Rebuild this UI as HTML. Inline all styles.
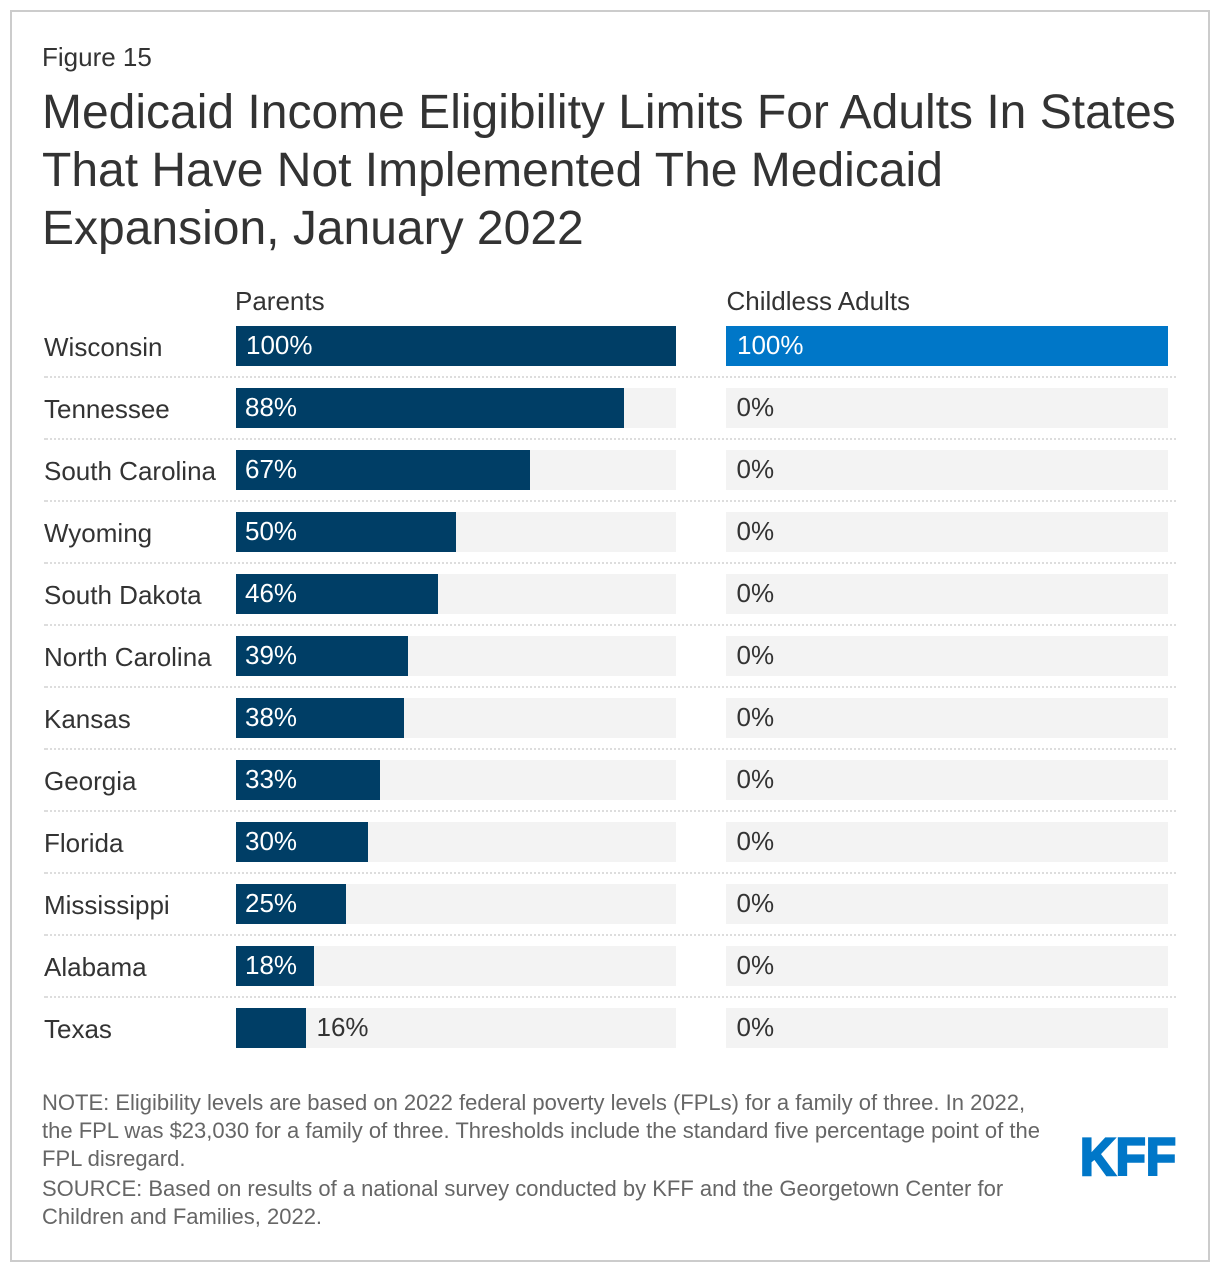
<!DOCTYPE html>
<html lang="en">
<head>
<meta charset="utf-8">
<title>Medicaid Income Eligibility Limits</title>
<style>
html,body{margin:0;padding:0;background:#fff;width:1220px;height:1272px;overflow:hidden}
svg{display:block;font-family:"Liberation Sans",Arial,sans-serif}
</style>
</head>
<body>
<svg id="chart" xmlns="http://www.w3.org/2000/svg" width="1220" height="1272" viewBox="0 0 1220 1272">
  <rect x="11" y="11" width="1198" height="1250" fill="#fff" stroke="#cccccc" stroke-width="2"/>
  <text x="42" y="66" font-size="26" fill="#333">Figure 15</text>
  <g font-size="48" fill="#333">
    <text x="42" y="128">Medicaid Income Eligibility Limits For Adults In States</text>
    <text x="42" y="186">That Have Not Implemented The Medicaid</text>
    <text x="42" y="244">Expansion, January 2022</text>
  </g>
  <text x="235" y="310" font-size="26" fill="#333">Parents</text>
  <text x="726.5" y="310" font-size="26" fill="#333">Childless Adults</text>
  <g id="rows"></g>
  <g font-size="22" fill="#666">
    <text x="42" y="1110">NOTE: Eligibility levels are based on 2022 federal poverty levels (FPLs) for a family of three. In 2022,</text>
    <text x="42" y="1138">the FPL was $23,030 for a family of three. Thresholds include the standard five percentage point of the</text>
    <text x="42" y="1166">FPL disregard.</text>
    <text x="42" y="1196">SOURCE: Based on results of a national survey conducted by KFF and the Georgetown Center for</text>
    <text x="42" y="1224">Children and Families, 2022.</text>
  </g>
  <text x="1080" y="1175" font-size="53" font-weight="bold" fill="#0077c8" stroke="#0077c8" stroke-width="2.4" textLength="96" lengthAdjust="spacingAndGlyphs">KFF</text>
</svg>
<script>
const states = ["Wisconsin","Tennessee","South Carolina","Wyoming","South Dakota","North Carolina","Kansas","Georgia","Florida","Mississippi","Alabama","Texas"];
const parents = [100,88.2,66.8,50,45.9,39.1,38.2,32.7,30,25,17.7,15.9];
const childless = [100,0,0,0,0,0,0,0,0,0,0,0];

const NS = "http://www.w3.org/2000/svg";
const rowsGroup = document.getElementById("rows");
const rowTop = 326, rowStep = 62, barHeight = 40;
const parentsAxis = v => Math.round(v / 100 * 440);
const childlessAxis = v => Math.round(v / 100 * 442);

function make(tag, attrs, text) {
  const el = document.createElementNS(NS, tag);
  for (const k in attrs) el.setAttribute(k, attrs[k]);
  if (text !== undefined) el.textContent = text;
  rowsGroup.appendChild(el);
  return el;
}

function drawBar(x0, trackW, value, w, y, color, seriesName, state, insetFull) {
  const track = make("rect", {x: x0, y: y, width: trackW, height: barHeight, fill: "#f3f3f3"});
  
  
  const bar = make("rect", {x: x0, y: y, width: w, height: barHeight, fill: color});
  
  
  bar.setAttribute('aria-label', seriesName + ' ' + state);
  const inside = w >= 75;
  const inset = Math.round(value) === 100 ? insetFull : 9;
  const lx = inside ? x0 + inset : (value === 0 ? x0 + 10.5 : x0 + w + 10.5);
  const label = make("text", {x: lx, y: y + 28, "font-size": 26, fill: inside ? "#fff" : "#333"}, Math.round(value) + "%");
  
  
}

states.forEach((state, i) => {
  const y = rowTop + i * rowStep;
  const name = make("text", {x: 44, y: y + 30, "font-size": 26, fill: "#333"}, state);
  
  
  drawBar(236, 440, parents[i], parentsAxis(parents[i]), y, "#003e66", "Parents", state, 10);
  drawBar(726, 442, childless[i], childlessAxis(childless[i]), y, "#0077c8", "Childless Adults", state, 11);
  if (i < states.length - 1) {
    const sep = make("line", {x1: 44, x2: 1176, y1: y + 51, y2: y + 51, stroke: "#dddddd", "stroke-width": 2, "stroke-dasharray": "2 2", "stroke-dashoffset": 2});
    
    
    const cap = make("rect", {x: 44, y: y + 50, width: 2, height: 2, fill: "#dddddd"});
    
    
  }
});
</script>
</body>
</html>
